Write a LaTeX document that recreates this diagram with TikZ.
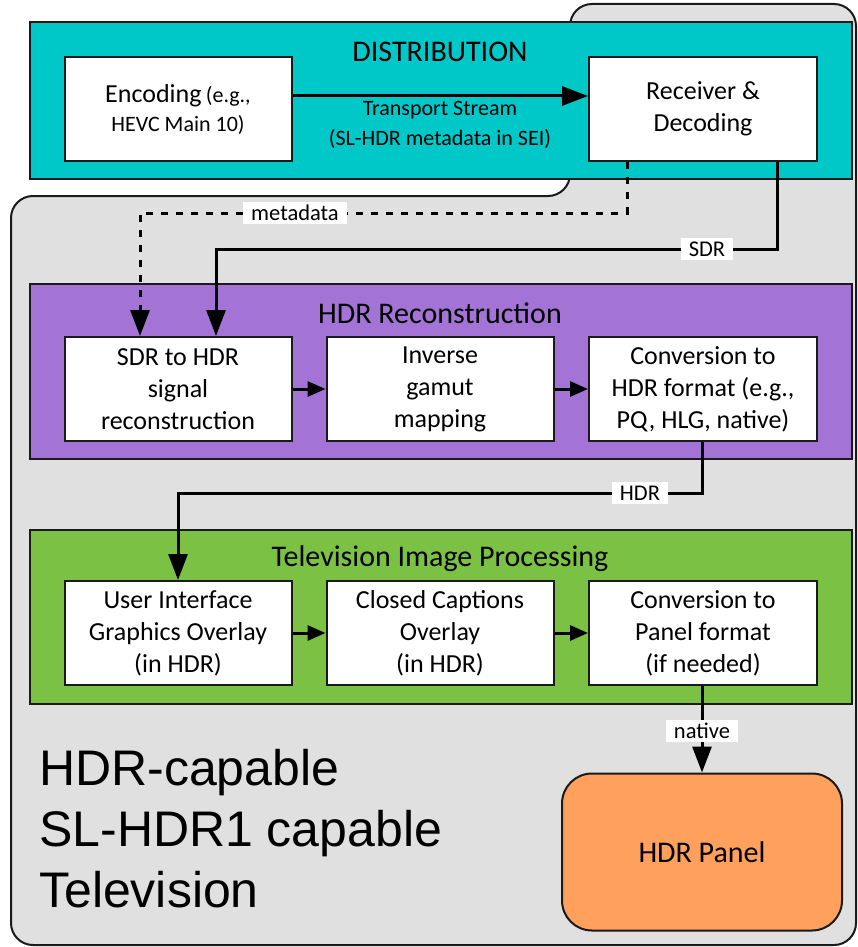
\documentclass[tikz,border=0pt]{standalone}
\usepackage{fontspec}
\setmainfont{Carlito}
\newfontfamily\arialf{Liberation Sans}
\usetikzlibrary{arrows.meta,calc}
\definecolor{tvgray}{HTML}{E0E0E0}
\definecolor{distteal}{HTML}{00C8C8}
\definecolor{recpurple}{HTML}{A374D6}
\definecolor{procgreen}{HTML}{7BC143}
\definecolor{panelorange}{HTML}{FFA05C}
\definecolor{edge}{HTML}{1A1A1A}
\tikzset{
  stage/.style={draw=edge, line width=1.5pt},
  box/.style={draw=edge, fill=white, line width=2pt, align=center,
    font=\fontsize{26}{32}\selectfont, inner sep=2pt},
  title/.style={font=\fontsize{30}{36}\selectfont, inner sep=0pt},
  flow/.style={line width=3pt, draw=black, -{Triangle[length=26pt,width=19pt]}},
  meta/.style={flow, dash pattern=on 7pt off 8pt},
  link/.style={line width=3pt, draw=black, -{Triangle[length=18pt,width=15pt]}},
  tag/.style={fill=white, font=\fontsize{22.5}{24}\selectfont, inner xsep=8pt,
    inner ysep=1pt, minimum height=22pt},
}
\begin{document}
\begin{tikzpicture}[x=1pt,y=-1pt]
\useasboundingbox (0,0) rectangle (858,947);
% outer TV shape
\draw[fill=tvgray, draw=edge, line width=2pt, rounded corners=22pt]
  (570,100) -- (570,4) -- (856,4) -- (856,945) -- (11,945) -- (11,196) -- (570,196) -- cycle;
% stage backgrounds
\path[stage, fill=distteal] (30,22) rectangle (852,179);
\path[stage, fill=recpurple] (30,284) rectangle (852,459);
\path[stage, fill=procgreen] (30,530) rectangle (852,704);
% titles
\node[title] (tdist) at (440,52) {DISTRIBUTION};
\node[title] (trec) at (440,313) {HDR Reconstruction};
\node[title] (tproc) at (440,559) {Television Image Processing};
% row 1
\node[box, minimum width=227pt, minimum height=104pt] (enc) at (178,109)
  {Encoding\,{\fontsize{22}{29}\selectfont(e.g.,}\\[-3pt]{\fontsize{22}{29}\selectfont HEVC Main 10)}};
\node[box, minimum width=228pt, minimum height=104pt] (rec) at (703,109)
  {Receiver \&\\Decoding};
% row 2
\node[box, minimum width=227pt, minimum height=104pt] (s2h) at (178,389)
  {SDR to HDR\\signal\\reconstruction};
\node[box, minimum width=227pt, minimum height=104pt] (igm) at (440,389)
  {Inverse\\gamut\\mapping};
\node[box, minimum width=228pt, minimum height=104pt] (chdr) at (703,389)
  {Conversion to\\HDR format (e.g.,\\PQ, HLG, native)};
% row 3
\node[box, minimum width=227pt, minimum height=104pt] (ui) at (178,633)
  {User Interface\\Graphics Overlay\\(in HDR)};
\node[box, minimum width=227pt, minimum height=104pt] (cc) at (440,633)
  {Closed Captions\\Overlay\\(in HDR)};
\node[box, minimum width=228pt, minimum height=104pt] (cpan) at (703,633)
  {Conversion to\\Panel format\\(if needed)};
% panel
\node[draw=edge, fill=panelorange, line width=2pt, rounded corners=30pt,
  minimum width=280pt, minimum height=157pt, font=\fontsize{30}{36}\selectfont]
  (panel) at (702,852) {HDR Panel};
% big caption
\node[anchor=west, align=left, inner sep=0pt,
  font=\arialf\fontsize{50}{61}\selectfont] (cap) at (39,829)
  {HDR-capable\\SL-HDR1 capable\\Television};
% transport stream
\draw[flow] ([yshift=13pt]enc.east) -- ([yshift=13pt]rec.west);
\node[align=center, inner sep=0pt, font=\fontsize{22}{30}\selectfont] (ts) at (440,125)
  {Transport Stream\\(SL-HDR metadata in SEI)};
% metadata (dashed)
\coordinate (m1) at (627,213);
\coordinate (m2) at (140,213);
\draw[meta] (rec.south -| m1) -- (m1) -- (m2) -- (s2h.north -| m2);
\node[tag] (lmeta) at (295,213) {metadata};
% SDR
\coordinate (s1) at (777,249);
\coordinate (s2) at (216,249);
\draw[flow] (rec.south -| s1) -- (s1) -- (s2) -- (s2h.north -| s2);
\node[tag] (lsdr) at (707,249) {SDR};
% links row 2
\draw[link] (s2h) -- (igm);
\draw[link] (igm) -- (chdr);
% HDR
\coordinate (h1) at (702,493);
\coordinate (h2) at (178,493);
\draw[flow] (chdr.south -| h1) -- (h1) -- (h2) -- (ui.north -| h2);
\node[tag] (lhdr) at (640,493) {HDR};
% links row 3
\draw[link] (ui) -- (cc);
\draw[link] (cc) -- (cpan);
% native
\draw[flow] (cpan.south -| h1) -- (panel.north -| h1);
\node[tag] (lnat) at (702,731) {native};
\end{tikzpicture}
\end{document}
